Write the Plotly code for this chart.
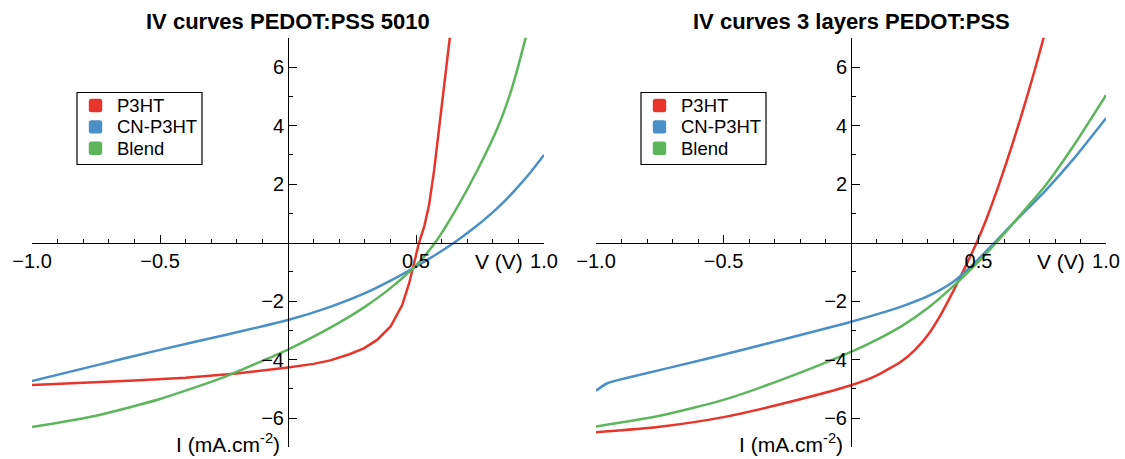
import plotly.graph_objects as go

# ---- IV data, PEDOT:PSS 5010 ----
v_5010_p3ht = [-1.0, -0.8, -0.6, -0.4, -0.2, 0.0, 0.1, 0.165, 0.24, 0.296, 0.348, 0.40,
               0.446, 0.473, 0.492, 0.512, 0.532, 0.551, 0.571, 0.59, 0.61, 0.632, 0.65]
i_5010_p3ht = [-4.87, -4.80, -4.72, -4.62, -4.48, -4.27, -4.15, -4.03, -3.82, -3.62, -3.33, -2.88,
               -2.14, -1.40, -0.71, 0.0, 0.54, 1.28, 2.48, 3.85, 5.44, 7.0, 7.8]

v_5010_cn = [-1.0, -0.75, -0.5, -0.25, 0.0, 0.165, 0.296, 0.427, 0.505, 0.58, 0.65,
             0.72, 0.793, 0.85, 0.9, 0.95, 1.0]
i_5010_cn = [-4.74, -4.2, -3.67, -3.17, -2.65, -2.2, -1.75, -1.18, -0.8, -0.40, 0.0,
             0.45, 0.98, 1.45, 1.92, 2.43, 2.99]

v_5010_blend = [-1.0, -0.75, -0.5, -0.25, 0.0, 0.1, 0.2, 0.3, 0.4, 0.5, 0.575,
                0.662, 0.74, 0.82, 0.872, 0.924, 0.95]
i_5010_blend = [-6.31, -5.92, -5.35, -4.6, -3.66, -3.22, -2.74, -2.2, -1.56, -0.78, 0.0,
                1.22, 2.48, 3.95, 5.2, 6.85, 7.8]

# ---- IV data, 3 layers PEDOT:PSS ----
v_3l_p3ht = [-1.0, -0.75, -0.5, -0.25, 0.0, 0.1, 0.2, 0.25, 0.3, 0.35, 0.4, 0.45,
             0.493, 0.53, 0.575, 0.615, 0.65, 0.685, 0.72, 0.753, 0.78]
i_3l_p3ht = [-6.49, -6.3, -5.97, -5.47, -4.88, -4.55, -4.05, -3.68, -3.18, -2.5, -1.68, -0.8,
             0.0, 0.78, 1.85, 2.88, 3.83, 4.83, 5.88, 6.92, 7.8]

v_3l_cn = [-1.0, -0.958, -0.86, -0.577, -0.295, 0.0, 0.197, 0.31, 0.40, 0.48, 0.563,
           0.65, 0.76, 0.872, 1.0]
i_3l_cn = [-5.07, -4.82, -4.59, -4.0, -3.38, -2.71, -2.19, -1.8, -1.35, -0.74, 0.0,
           0.78, 1.75, 2.85, 4.25]

v_3l_blend = [-1.0, -0.75, -0.5, -0.25, 0.0, 0.1, 0.2, 0.3, 0.4, 0.5, 0.57,
              0.65, 0.76, 0.872, 1.0]
i_3l_blend = [-6.29, -5.92, -5.38, -4.62, -3.74, -3.33, -2.85, -2.25, -1.5, -0.65, 0.0,
              0.8, 1.92, 3.3, 5.04]

series_names = ["P3HT", "CN-P3HT", "Blend"]
series_colors = ["#E8352B", "#4A90C6", "#5DB65C"]

panel_titles = ["IV curves PEDOT:PSS 5010", "IV curves 3 layers PEDOT:PSS"]

x_tickvals = [-1.0, -0.5, 0.5, 1.0]
x_ticktext = ["\u22121.0", "\u22120.5", "0.5", "1.0"]
y_tickvals = [-6, -4, -2, 2, 4, 6]
y_ticktext = ["\u22126", "\u22124", "\u22122", "2", "4", "6"]
y_minor_vals = [-7, -5, -3, -1, 1, 3, 5, 7]

panels = [
    [(v_5010_p3ht, i_5010_p3ht), (v_5010_cn, i_5010_cn), (v_5010_blend, i_5010_blend)],
    [(v_3l_p3ht, i_3l_p3ht), (v_3l_cn, i_3l_cn), (v_3l_blend, i_3l_blend)],
]

W, H = 1125, 459
FONT = "Liberation Sans, Arial, Helvetica, sans-serif"
TICK_SIZE = 20


def px(x):
    return x / W


def py(y):
    return 1 - y / H


fig = go.Figure()
axis_ids = [("x", "y"), ("x2", "y2")]

for p, curves in enumerate(panels):
    xa, ya = axis_ids[p]
    for k, (v, i) in enumerate(curves):
        shape = "linear" if (p == 0 and k == 0) else "spline"
        fig.add_trace(go.Scatter(
            x=v, y=i, mode="lines", xaxis=xa, yaxis=ya, name=series_names[k],
            line=dict(color=series_colors[k], width=2.5, shape=shape, smoothing=0.6),
            showlegend=False, hoverinfo="skip"))

# pixel geometry of the two panels
x_pix = [(32, 544), (596, 1106)]
y_top_pix, y_bot_pix = 37.75, 447.25
y_dom = [py(y_bot_pix), py(y_top_pix)]
x_axis_pos = py(242.5)

axis_common_x = dict(
    range=[-1.0, 1.0], anchor="free", position=x_axis_pos, automargin=False,
    showline=True, linecolor="black", linewidth=1,
    ticks="inside", ticklen=8, tickwidth=1, tickcolor="black",
    tickvals=x_tickvals, ticktext=x_ticktext,
    tickfont=dict(family=FONT, size=TICK_SIZE, color="black"),
    minor=dict(ticks="inside", ticklen=4, tickwidth=1, tickcolor="black",
               tick0=0, dtick=0.1),
    showgrid=False, zeroline=False, fixedrange=True,
)
axis_common_y = dict(
    range=[-7.0, 7.0], domain=y_dom, anchor="free", automargin=False,
    showline=True, linecolor="black", linewidth=1,
    ticks="inside", ticklen=8, tickwidth=1, tickcolor="black",
    tickvals=y_tickvals, ticktext=y_ticktext,
    tickfont=dict(family=FONT, size=TICK_SIZE, color="black"),
    minor=dict(ticks="inside", ticklen=4, tickwidth=1, tickcolor="black",
               tickvals=y_minor_vals),
    showgrid=False, zeroline=False, fixedrange=True,
)

layout_axes = {}
for p in range(2):
    x0, x1 = x_pix[p]
    xname = "xaxis" if p == 0 else "xaxis2"
    yname = "yaxis" if p == 0 else "yaxis2"
    layout_axes[xname] = dict(axis_common_x, domain=[px(x0), px(x1)])
    layout_axes[yname] = dict(axis_common_y, position=px((x0 + x1) / 2))

annotations = []
shapes = []
for p in range(2):
    x0, x1 = x_pix[p]
    xc = (x0 + x1) / 2
    annotations.append(dict(
        text="<b>%s</b>" % panel_titles[p], x=px(xc), y=py(22),
        xref="paper", yref="paper", xanchor="center", yanchor="middle",
        showarrow=False, font=dict(family=FONT, size=22, color="black")))
    annotations.append(dict(
        text="V (V)", x=px(x1 - 19), y=py(261),
        xref="paper", yref="paper", xanchor="right", yanchor="middle",
        showarrow=False, font=dict(family=FONT, size=21, color="black")))
    annotations.append(dict(
        text="I (mA.cm<sup>-2</sup>)", x=px(xc - 6), y=py(443),
        xref="paper", yref="paper", xanchor="right", yanchor="middle",
        showarrow=False, font=dict(family=FONT, size=21, color="black")))

    # legend box with rounded colour swatches
    lx0 = x0 + 45
    shapes.append(dict(type="rect", xref="paper", yref="paper",
                       x0=px(lx0), x1=px(lx0 + 125), y0=py(164.5), y1=py(92.5),
                       line=dict(color="black", width=1.2), fillcolor="white", layer="above"))
    for k in range(3):
        cy = 105.5 + 21.4 * k
        cx = lx0 + 18.5
        s, r = 6.7, 2.5
        path = ("M {a},{b} L {c},{b} Q {d},{b} {d},{e} L {d},{f} Q {d},{g} {c},{g} "
                "L {a},{g} Q {h},{g} {h},{f} L {h},{e} Q {h},{b} {a},{b} Z").format(
            a=px(cx - s + r), b=py(cy - s), c=px(cx + s - r), d=px(cx + s),
            e=py(cy - s + r), f=py(cy + s - r), g=py(cy + s), h=px(cx - s))
        shapes.append(dict(type="path", xref="paper", yref="paper", path=path,
                           fillcolor=series_colors[k], line=dict(width=0), layer="above"))
        annotations.append(dict(
            text=series_names[k], x=px(lx0 + 38), y=py(cy),
            xref="paper", yref="paper", xanchor="left", yanchor="middle",
            showarrow=False, font=dict(family=FONT, size=18.5, color="black")))

fig.update_layout(
    width=W, height=H,
    margin=dict(l=0, r=0, t=0, b=0, pad=0),
    paper_bgcolor="white", plot_bgcolor="white",
    font=dict(family=FONT, color="black"),
    showlegend=False,
    annotations=annotations,
    shapes=shapes,
    **layout_axes,
)

fig.write_html("out.html")
